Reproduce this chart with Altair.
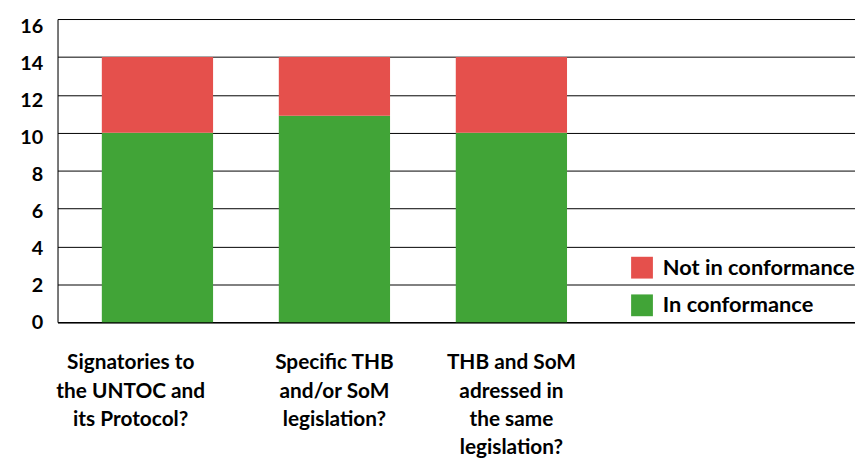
import altair as alt
import pandas as pd

categories = [
    "Signatories to|the UNTOC and|its Protocol?",
    "Specific THB|and/or SoM|legislation?",
    "THB and SoM|adressed in|the same|legislation?",
]
in_conformance = [10, 10.9, 10]
not_in_conformance = [4, 3.1, 4]
series_names = ["Not in conformance", "In conformance"]
series_colors = ["#E5504C", "#41A437"]
y_ticks = [0, 2, 4, 6, 8, 10, 12, 14, 16]

rows = []
for c, a, b in zip(categories, in_conformance, not_in_conformance):
    rows.append({"cat": c, "status": "In conformance", "value": a, "ord": 0})
    rows.append({"cat": c, "status": "Not in conformance", "value": b, "ord": 1})
df = pd.DataFrame(rows)

FONT = "Lato"

chart = (
    alt.Chart(df)
    .mark_bar()
    .encode(
        x=alt.X(
            "cat:N",
            sort=categories,
            scale=alt.Scale(paddingInner=0.3714, paddingOuter=0.9387, align=0.1333),
            axis=alt.Axis(
                title=None,
                labelAngle=0,
                labelExpr="split(datum.label, '|')",
                labelFont=FONT,
                labelFontSize=21,
                labelFontWeight="bold",
                labelColor="#000",
                labelLineHeight=28.7,
                labelBaseline="top",
                labelPadding=30,
                labelLimit=400,
                labelOffset={"expr": "indexof(datum.value, 'Signatories') === 0 ? -27 : 0"},
                ticks=False,
                domainColor="#000",
                domainWidth=1.5,
                grid=False,
            ),
        ),
        y=alt.Y(
            "value:Q",
            stack="zero",
            scale=alt.Scale(domain=[0, 16], nice=False),
            axis=alt.Axis(
                title=None,
                values=y_ticks,
                labelFont=FONT,
                labelFontSize=20,
                labelFontWeight="bold",
                labelColor="#000",
                labelPadding=15,
                labelOffset={"expr": "0.5 + datum.value * 0.46"},
                ticks=False,
                domainColor="#000",
                domainWidth=1,
                grid=True,
                gridColor="#000",
                gridWidth=1,
            ),
        ),
        color=alt.Color(
            "status:N",
            scale=alt.Scale(domain=series_names, range=series_colors),
            legend=alt.Legend(
                orient="none",
                legendX=579,
                legendY=240,
                title=None,
                symbolType="square",
                symbolSize=484,
                symbolStrokeWidth=0,
                symbolOpacity=1,
                labelFont=FONT,
                labelFontSize=22,
                labelFontWeight="bold",
                labelColor="#000",
                labelLimit=300,
                labelOffset=10,
                rowPadding=16,
                padding=0,
            ),
        ),
        order=alt.Order("ord:Q", sort="ascending"),
    )
    .properties(
        width=805,
        height=306,
        autosize=alt.AutoSizeParams(type="none"),
        padding={"left": 50, "top": 9, "right": 0, "bottom": 135},
    )
    .configure_view(stroke=None)
    .configure(background="white")
)

chart.save("out.html", embed_options={"renderer": "svg", "actions": False})
